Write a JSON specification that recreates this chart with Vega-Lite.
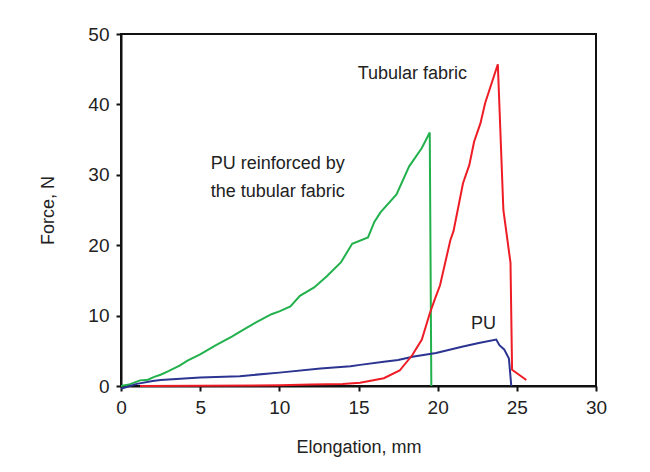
{
  "$schema": "https://vega.github.io/schema/vega-lite/v6.json",
  "width": 475,
  "height": 352,
  "autosize": {"type": "none"},
  "padding": {"left": 121, "top": 34, "right": 54, "bottom": 86},
  "background": "white",
  "config": {
    "view": {"stroke": "#111", "strokeWidth": 2},
    "font": "Liberation Sans"
  },
  "datasets": {
    "curves": [
      {"series": "PU reinforced by the tubular fabric", "i": 0, "x": 0, "y": 0},
      {"series": "PU reinforced by the tubular fabric", "i": 1, "x": 0.5, "y": 0.2},
      {"series": "PU reinforced by the tubular fabric", "i": 2, "x": 1.2, "y": 0.8},
      {"series": "PU reinforced by the tubular fabric", "i": 3, "x": 1.7, "y": 0.9},
      {"series": "PU reinforced by the tubular fabric", "i": 4, "x": 2.1, "y": 1.3},
      {"series": "PU reinforced by the tubular fabric", "i": 5, "x": 2.5, "y": 1.6},
      {"series": "PU reinforced by the tubular fabric", "i": 6, "x": 3.0, "y": 2.1},
      {"series": "PU reinforced by the tubular fabric", "i": 7, "x": 3.7, "y": 2.9},
      {"series": "PU reinforced by the tubular fabric", "i": 8, "x": 4.2, "y": 3.6},
      {"series": "PU reinforced by the tubular fabric", "i": 9, "x": 5.0, "y": 4.5},
      {"series": "PU reinforced by the tubular fabric", "i": 10, "x": 6.0, "y": 5.8},
      {"series": "PU reinforced by the tubular fabric", "i": 11, "x": 7.0, "y": 7.0},
      {"series": "PU reinforced by the tubular fabric", "i": 12, "x": 7.5, "y": 7.7},
      {"series": "PU reinforced by the tubular fabric", "i": 13, "x": 8.5, "y": 9.0},
      {"series": "PU reinforced by the tubular fabric", "i": 14, "x": 9.5, "y": 10.2},
      {"series": "PU reinforced by the tubular fabric", "i": 15, "x": 10.0, "y": 10.6},
      {"series": "PU reinforced by the tubular fabric", "i": 16, "x": 10.7, "y": 11.3},
      {"series": "PU reinforced by the tubular fabric", "i": 17, "x": 11.3, "y": 12.8},
      {"series": "PU reinforced by the tubular fabric", "i": 18, "x": 12.2, "y": 14.0},
      {"series": "PU reinforced by the tubular fabric", "i": 19, "x": 13.0, "y": 15.6},
      {"series": "PU reinforced by the tubular fabric", "i": 20, "x": 13.9, "y": 17.6},
      {"series": "PU reinforced by the tubular fabric", "i": 21, "x": 14.6, "y": 20.2},
      {"series": "PU reinforced by the tubular fabric", "i": 22, "x": 15.6, "y": 21.1},
      {"series": "PU reinforced by the tubular fabric", "i": 23, "x": 16.0, "y": 23.3},
      {"series": "PU reinforced by the tubular fabric", "i": 24, "x": 16.4, "y": 24.7},
      {"series": "PU reinforced by the tubular fabric", "i": 25, "x": 17.4, "y": 27.2},
      {"series": "PU reinforced by the tubular fabric", "i": 26, "x": 18.2, "y": 31.2},
      {"series": "PU reinforced by the tubular fabric", "i": 27, "x": 19.0, "y": 33.8},
      {"series": "PU reinforced by the tubular fabric", "i": 28, "x": 19.5, "y": 36.0},
      {"series": "PU reinforced by the tubular fabric", "i": 29, "x": 19.6, "y": 0},
      {"series": "PU", "i": 0, "x": 0, "y": -0.4},
      {"series": "PU", "i": 1, "x": 1.0, "y": 0.3},
      {"series": "PU", "i": 2, "x": 2.0, "y": 0.7},
      {"series": "PU", "i": 3, "x": 2.5, "y": 0.85},
      {"series": "PU", "i": 4, "x": 3.5, "y": 1.0},
      {"series": "PU", "i": 5, "x": 5.0, "y": 1.2},
      {"series": "PU", "i": 6, "x": 7.5, "y": 1.4},
      {"series": "PU", "i": 7, "x": 10.0, "y": 1.9},
      {"series": "PU", "i": 8, "x": 12.6, "y": 2.5},
      {"series": "PU", "i": 9, "x": 14.5, "y": 2.8},
      {"series": "PU", "i": 10, "x": 15.1, "y": 3.0},
      {"series": "PU", "i": 11, "x": 16.6, "y": 3.45},
      {"series": "PU", "i": 12, "x": 17.5, "y": 3.7},
      {"series": "PU", "i": 13, "x": 18.5, "y": 4.2},
      {"series": "PU", "i": 14, "x": 19.9, "y": 4.7},
      {"series": "PU", "i": 15, "x": 21.6, "y": 5.6},
      {"series": "PU", "i": 16, "x": 22.6, "y": 6.1},
      {"series": "PU", "i": 17, "x": 23.7, "y": 6.6},
      {"series": "PU", "i": 18, "x": 23.9, "y": 5.8},
      {"series": "PU", "i": 19, "x": 24.2, "y": 5.2},
      {"series": "PU", "i": 20, "x": 24.5, "y": 3.9},
      {"series": "PU", "i": 21, "x": 24.65, "y": 0},
      {"series": "Tubular fabric", "i": 0, "x": 1.2, "y": 0},
      {"series": "Tubular fabric", "i": 1, "x": 5.0, "y": 0.05},
      {"series": "Tubular fabric", "i": 2, "x": 10.0, "y": 0.1},
      {"series": "Tubular fabric", "i": 3, "x": 12.0, "y": 0.2},
      {"series": "Tubular fabric", "i": 4, "x": 14.0, "y": 0.3},
      {"series": "Tubular fabric", "i": 5, "x": 15.1, "y": 0.47},
      {"series": "Tubular fabric", "i": 6, "x": 16.6, "y": 1.1},
      {"series": "Tubular fabric", "i": 7, "x": 17.6, "y": 2.2},
      {"series": "Tubular fabric", "i": 8, "x": 18.4, "y": 4.4},
      {"series": "Tubular fabric", "i": 9, "x": 19.0, "y": 6.6},
      {"series": "Tubular fabric", "i": 10, "x": 19.5, "y": 10.3},
      {"series": "Tubular fabric", "i": 11, "x": 19.8, "y": 12.2},
      {"series": "Tubular fabric", "i": 12, "x": 20.15, "y": 14.3},
      {"series": "Tubular fabric", "i": 13, "x": 20.8, "y": 20.7},
      {"series": "Tubular fabric", "i": 14, "x": 21.0, "y": 22.0},
      {"series": "Tubular fabric", "i": 15, "x": 21.6, "y": 28.8},
      {"series": "Tubular fabric", "i": 16, "x": 22.0, "y": 31.4},
      {"series": "Tubular fabric", "i": 17, "x": 22.3, "y": 34.7},
      {"series": "Tubular fabric", "i": 18, "x": 22.7, "y": 37.3},
      {"series": "Tubular fabric", "i": 19, "x": 23.0, "y": 40.2},
      {"series": "Tubular fabric", "i": 20, "x": 23.8, "y": 45.7},
      {"series": "Tubular fabric", "i": 21, "x": 24.15, "y": 25.0},
      {"series": "Tubular fabric", "i": 22, "x": 24.6, "y": 17.5},
      {"series": "Tubular fabric", "i": 23, "x": 24.7, "y": 2.3},
      {"series": "Tubular fabric", "i": 24, "x": 25.6, "y": 0.85}
    ],
    "labels": [
      {"text": "Tubular fabric", "x": 18.4, "y": 44.3},
      {"text": "PU reinforced by", "x": 9.9, "y": 31.5},
      {"text": "the tubular fabric", "x": 9.9, "y": 27.6},
      {"text": "PU", "x": 22.9, "y": 8.8}
    ]
  },
  "layer": [
    {
      "data": {"name": "curves"},
      "mark": {"type": "line", "strokeWidth": 2, "clip": false},
      "encoding": {
        "x": {
          "field": "x", "type": "quantitative",
          "scale": {"domain": [0, 30], "nice": false, "zero": false},
          "axis": {
            "title": "Elongation, mm",
            "values": [0, 2.5, 5, 7.5, 10, 12.5, 15, 17.5, 20, 22.5, 25, 27.5, 30],
            "labelExpr": "datum.value % 5 === 0 ? datum.label : ''",
            "labelFlush": false,
            "grid": false,
            "domainColor": "#111", "domainWidth": 2,
            "tickColor": "#111", "tickWidth": 2,
            "tickSize": {"condition": {"test": "datum.value % 5 !== 0", "value": 3}, "value": 5},
            "labelFontSize": 19, "labelColor": "#222", "labelPadding": 7,
            "titleFontSize": 18, "titleColor": "#222", "titleFontWeight": "normal", "titlePadding": 21
          }
        },
        "y": {
          "field": "y", "type": "quantitative",
          "scale": {"domain": [0, 50], "nice": false, "zero": false},
          "axis": {
            "title": "Force, N",
            "values": [0, 5, 10, 15, 20, 25, 30, 35, 40, 45, 50],
            "labelExpr": "datum.value % 10 === 0 ? datum.label : ''",
            "labelFlush": false,
            "grid": false,
            "domainColor": "#111", "domainWidth": 2,
            "tickColor": "#111", "tickWidth": 2,
            "tickSize": {"condition": {"test": "datum.value % 10 !== 0", "value": 3}, "value": 5},
            "labelFontSize": 19, "labelColor": "#222", "labelPadding": 7,
            "titleFontSize": 18, "titleColor": "#222", "titleFontWeight": "normal", "titlePadding": 30
          }
        },
        "color": {
          "field": "series", "type": "nominal",
          "scale": {
            "domain": ["PU reinforced by the tubular fabric", "Tubular fabric", "PU"],
            "range": ["#22b14c", "#ee1c25", "#2b3491"]
          },
          "legend": null
        },
        "order": {"field": "i", "type": "quantitative"}
      }
    },
    {
      "data": {"name": "labels"},
      "mark": {"type": "text", "fontSize": 18, "color": "#222", "align": "center", "baseline": "middle"},
      "encoding": {
        "x": {"field": "x", "type": "quantitative"},
        "y": {"field": "y", "type": "quantitative"},
        "text": {"field": "text"}
      }
    }
  ]
}
